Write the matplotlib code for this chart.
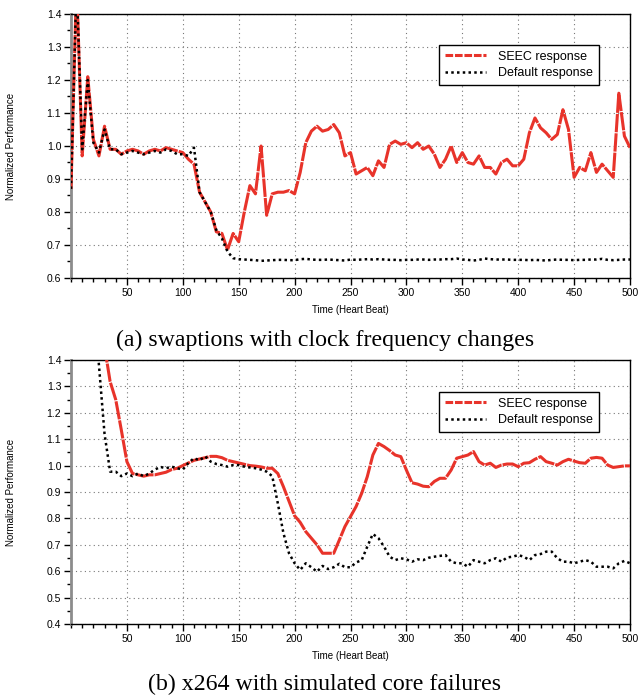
import numpy as np
import matplotlib
matplotlib.use("Agg")
import matplotlib.pyplot as plt
from matplotlib.ticker import MultipleLocator, FormatStrFormatter

plt.rcParams["font.family"] = ["Liberation Sans", "DejaVu Sans"]

# (a) swaptions with clock frequency changes
x_a = np.arange(0, 505, 5)
seec_a = [0.87, 1.50, 0.97, 1.21, 1.02, 0.97, 1.06, 0.99, 0.99, 0.975,
          0.985, 0.99, 0.985, 0.975, 0.985, 0.99, 0.985, 0.995, 0.99, 0.985,
          0.98, 0.96, 0.945, 0.86, 0.83, 0.80, 0.74, 0.735, 0.685, 0.735,
          0.71, 0.80, 0.88, 0.855, 1.00, 0.79, 0.855, 0.86, 0.86, 0.865,
          0.855, 0.92, 1.01, 1.045, 1.06, 1.045, 1.05, 1.065, 1.04, 0.97,
          0.98, 0.915, 0.925, 0.935, 0.91, 0.955, 0.935, 1.005, 1.015, 1.005,
          1.01, 0.995, 1.01, 0.99, 1.00, 0.975, 0.935, 0.96, 1.00, 0.95,
          0.98, 0.95, 0.945, 0.97, 0.935, 0.935, 0.915, 0.95, 0.96, 0.94,
          0.94, 0.96, 1.04, 1.085, 1.055, 1.04, 1.02, 1.035, 1.11, 1.05,
          0.905, 0.935, 0.925, 0.98, 0.92, 0.945, 0.925, 0.905, 1.16, 1.03,
          0.995]
default_a = [0.87, 1.50, 0.99, 1.20, 1.01, 0.98, 1.05, 0.99, 0.99, 0.975,
             0.98, 0.985, 0.98, 0.975, 0.98, 0.985, 0.98, 0.99, 0.985, 0.975,
             0.975, 0.97, 0.995, 0.86, 0.83, 0.80, 0.745, 0.72, 0.68, 0.66,
             0.657, 0.656, 0.655, 0.654, 0.652, 0.653, 0.654, 0.655, 0.655, 0.654,
             0.654, 0.657, 0.658, 0.656, 0.655, 0.655, 0.656, 0.655, 0.654, 0.653,
             0.656, 0.655, 0.656, 0.657, 0.656, 0.657, 0.656, 0.655, 0.655, 0.654,
             0.655, 0.655, 0.656, 0.656, 0.655, 0.656, 0.656, 0.657, 0.657, 0.659,
             0.656, 0.655, 0.653, 0.655, 0.659, 0.657, 0.656, 0.656, 0.656, 0.655,
             0.655, 0.655, 0.654, 0.655, 0.654, 0.653, 0.655, 0.656, 0.655, 0.655,
             0.654, 0.655, 0.655, 0.656, 0.656, 0.658, 0.655, 0.654, 0.655, 0.656,
             0.656]

# (b) x264 with simulated core failures
x_b = np.arange(20, 505, 5)
seec_b = [1.75, 1.60, 1.45, 1.318, 1.25, 1.135, 1.015, 0.97, 0.965, 0.96,
          0.965, 0.965, 0.97, 0.975, 0.985, 0.99, 1.00, 1.01, 1.02, 1.025,
          1.03, 1.035, 1.035, 1.03, 1.02, 1.015, 1.01, 1.005, 1.00, 0.998,
          0.995, 0.99, 0.99, 0.97, 0.92, 0.865, 0.81, 0.785, 0.75, 0.725,
          0.70, 0.668, 0.668, 0.668, 0.718, 0.769, 0.807, 0.845, 0.895, 0.958,
          1.04, 1.084, 1.072, 1.057, 1.04, 1.034, 0.983, 0.935, 0.93, 0.922,
          0.92, 0.94, 0.952, 0.952, 0.983, 1.028, 1.034, 1.04, 1.053, 1.015,
          1.002, 1.009, 0.993, 1.002, 1.006, 1.006, 0.996, 1.009, 1.011, 1.024,
          1.034, 1.015, 1.009, 1.002, 1.015, 1.024, 1.017, 1.011, 1.009, 1.028,
          1.031, 1.028, 1.002, 0.993, 0.996, 0.999, 0.999]
default_b = [1.65, 1.38, 1.12, 0.977, 0.977, 0.96, 0.97, 0.96, 0.97, 0.96,
             0.97, 0.985, 0.995, 0.99, 0.996, 0.99, 0.985, 1.01, 1.028, 1.02,
             1.035, 1.015, 1.006, 1.002, 0.996, 1.002, 1.002, 0.996, 0.993, 0.99,
             0.985, 0.977, 0.96, 0.857, 0.744, 0.668, 0.63, 0.605, 0.63, 0.615,
             0.598, 0.62, 0.608, 0.615, 0.628, 0.615, 0.615, 0.633, 0.642, 0.693,
             0.741, 0.725, 0.693, 0.655, 0.642, 0.649, 0.645, 0.636, 0.645, 0.642,
             0.651, 0.655, 0.658, 0.661, 0.636, 0.63, 0.63, 0.617, 0.642, 0.636,
             0.63, 0.642, 0.649, 0.636, 0.652, 0.655, 0.661, 0.655, 0.642, 0.661,
             0.665, 0.674, 0.674, 0.649, 0.636, 0.636, 0.63, 0.636, 0.642, 0.636,
             0.617, 0.617, 0.617, 0.611, 0.63, 0.639, 0.63]

W, H = 640, 696
fig = plt.figure(figsize=(W / 100, H / 100), dpi=100)


def make_axes(top_px, ylo, yhi, legend_top_px):
    left, right = 71, 630
    bottom_px = top_px + 264
    ax = fig.add_axes([left / W, 1 - bottom_px / H, (right - left) / W, 264 / H])
    ax.set_xlim(0, 500)
    ax.set_ylim(ylo, yhi)
    ax.xaxis.set_minor_locator(MultipleLocator(10))
    ax.yaxis.set_major_locator(MultipleLocator(0.1))
    ax.yaxis.set_minor_locator(MultipleLocator(0.05))
    ax.yaxis.set_major_formatter(FormatStrFormatter("%.1f"))
    ax.set_xticks(np.arange(50, 501, 50))
    ax.tick_params(which="major", direction="out", length=5, width=1,
                   labelsize=7.5, pad=2, top=False, right=False)
    ax.tick_params(which="minor", direction="out", length=3, width=1,
                   top=False, right=False)
    ax.grid(True, which="major", color="#777777", linestyle=(0, (1, 3)), linewidth=0.8)
    ax.spines["left"].set_color("#8c8c8c")
    ax.spines["left"].set_linewidth(2)
    for s in ["top", "right", "bottom"]:
        ax.spines[s].set_linewidth(1)
    ax.set_xlabel("Time (Heart Beat)", fontsize=7, labelpad=5)
    ax.set_ylabel("Normalized Performance", fontsize=7)
    ax.yaxis.set_label_coords(-0.0985, 0.5)
    return ax, (bottom_px - legend_top_px) / 264


def draw(ax, x, seec, default, leg_y):
    ax.plot(x, seec, color="#e8332a", linewidth=2.2, linestyle=(0, (6, 0.35)),
            label="SEEC response", zorder=3)
    ax.plot(x, default, color="black", linewidth=1.8, linestyle=(0, (1, 1.3)),
            label="Default response", zorder=4)
    leg = ax.legend(loc="upper right", bbox_to_anchor=(0.9445, leg_y),
                    borderaxespad=0, fontsize=9, fancybox=False, framealpha=1,
                    edgecolor="black", handlelength=3.3, handletextpad=1.0,
                    labelspacing=0.35, borderpad=0.45)
    leg.get_frame().set_linewidth(1)
    leg.get_lines()[0].set_linestyle((0, (2.5, 0.6)))


ax1, ly1 = make_axes(14, 0.6, 1.4, 45)
draw(ax1, x_a, seec_a, default_a, ly1)
ax2, ly2 = make_axes(360, 0.4, 1.4, 392)
draw(ax2, x_b, seec_b, default_b, ly2)

fig.text(325 / W, 1 - 340 / H, "(a) swaptions with clock frequency changes",
         ha="center", va="center", fontsize=17.2, family="Liberation Serif")
fig.text(325 / W, 1 - 684 / H, "(b) x264 with simulated core failures",
         ha="center", va="center", fontsize=17.2, family="Liberation Serif")

fig.savefig("out.png", dpi=100)
